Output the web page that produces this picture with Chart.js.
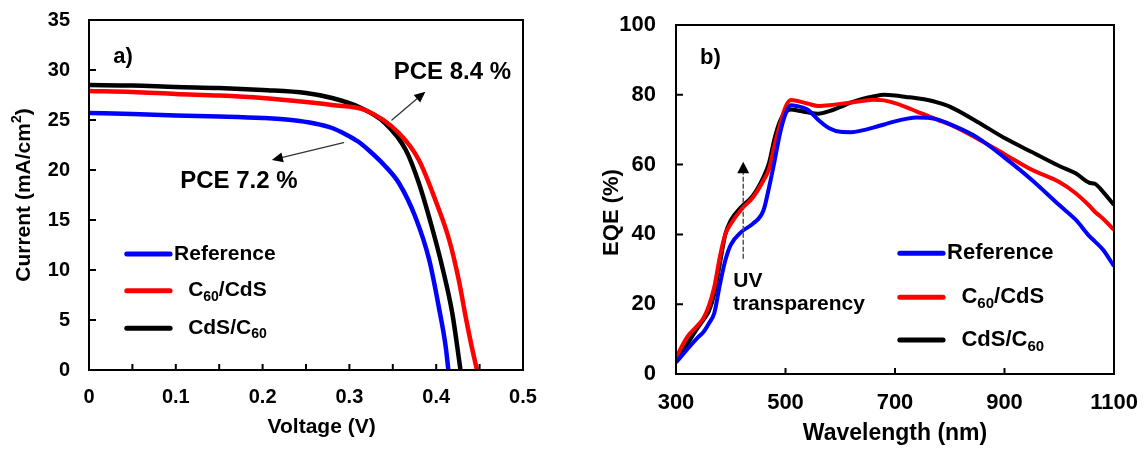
<!DOCTYPE html>
<html>
<head>
<meta charset="utf-8">
<script src="https://cdn.jsdelivr.net/npm/chart.js@4.4.1/dist/chart.umd.min.js"></script>
<style>
  html, body { margin: 0; padding: 0; background: #fff; }
  body { width: 1146px; height: 451px; position: relative; overflow: hidden; }
  .panel { position: absolute; top: 0; }
  #panel-a { left: 0; }
  #panel-b { left: 580px; }
</style>
</head>
<body>
<div class="panel" id="panel-a"><canvas id="grafico-jv" width="560" height="451"></canvas></div>
<div class="panel" id="panel-b"><canvas id="grafico-eqe" width="566" height="451"></canvas></div>
<script>
// ---- a) curvas J-V ----
const voltajeRef = [0, 0.05, 0.1, 0.15, 0.2, 0.233, 0.26, 0.28, 0.295, 0.31, 0.322, 0.34, 0.357, 0.376, 0.392, 0.403, 0.411, 0.414];
const corrienteRef = [25.7, 25.6, 25.45, 25.35, 25.2, 25.0, 24.65, 24.2, 23.6, 22.85, 22.0, 20.5, 18.7, 15.3, 11.0, 6.3, 2.3, 0];

const voltajeC60CdS = [0, 0.05, 0.1, 0.15, 0.2, 0.25, 0.28, 0.318, 0.357, 0.38, 0.399, 0.415, 0.426, 0.434, 0.441, 0.447];
const corrienteC60CdS = [27.9, 27.8, 27.6, 27.45, 27.2, 26.8, 26.5, 26.0, 23.7, 21.0, 17.0, 13.0, 9.0, 5.3, 2.3, 0];

const voltajeCdSC60 = [0, 0.05, 0.1, 0.15, 0.2, 0.25, 0.28, 0.311, 0.341, 0.365, 0.38, 0.395, 0.407, 0.4185, 0.428];
const corrienteCdSC60 = [28.5, 28.45, 28.3, 28.2, 28.0, 27.7, 27.2, 26.3, 24.7, 22.0, 18.7, 14.3, 10.3, 5.7, 0];

const marcasVoltaje = [0.05, 0.1, 0.15, 0.2, 0.25, 0.3, 0.35, 0.4, 0.45];
const marcasCorriente = [5, 10, 15, 20, 25, 30];

// ---- b) EQE ----
const longitudOnda = [300, 320, 340, 350, 360, 370, 380, 390, 400, 420, 440, 460, 470, 480, 490, 500, 510, 520, 540, 560, 580, 600, 620, 640, 660, 680, 700, 720, 740, 760, 780, 800, 850, 900, 950, 1000, 1030, 1055, 1065, 1080, 1100];
const eqeRef = [3.3, 7.0, 10.5, 12.0, 14.5, 17.5, 25.5, 32.5, 37.0, 40.8, 43.0, 47.0, 53.5, 61.0, 69.0, 74.5, 77.0, 76.8, 75.8, 72.8, 70.4, 69.4, 69.3, 69.8, 70.6, 71.5, 72.4, 73.1, 73.5, 73.4, 72.8, 71.6, 67.8, 62.0, 55.6, 48.4, 44.2, 39.5, 38.0, 35.6, 30.9];
const eqeC60CdS = [4.7, 10.5, 14.0, 16.0, 19.5, 25.0, 33.5, 40.0, 43.0, 47.3, 50.5, 55.5, 58.8, 65.5, 71.5, 76.5, 78.5, 78.3, 77.5, 76.8, 77.0, 77.4, 77.8, 78.2, 78.6, 78.4, 77.6, 76.5, 75.2, 74.0, 72.7, 71.5, 67.5, 63.0, 58.5, 55.0, 51.8, 48.2, 46.5, 44.5, 41.3];
const eqeCdSC60 = [3.8, 8.5, 13.3, 15.5, 18.0, 23.0, 31.5, 40.0, 44.0, 48.0, 51.0, 56.5, 60.5, 67.5, 72.5, 75.0, 75.8, 75.6, 75.0, 74.6, 75.3, 76.5, 77.8, 78.8, 79.5, 80.0, 79.8, 79.4, 79.0, 78.5, 77.7, 76.6, 72.3, 67.6, 63.6, 59.6, 57.5, 54.8, 54.5, 52.2, 48.4];

const marcasOnda = [500, 700, 900];
const marcasEqe = [20, 40, 60, 80];

// nombres de las series (partes: [texto, 0 normal / 1 subindice / 2 superindice])
const nombresSeries = [
    [["Reference", 0]],
    [["C", 0], ["60", 1], ["/CdS", 0]],
    [["CdS/C", 0], ["60", 1]]
];
const coloresSeries = ["#0000ff", "#ff0000", "#000000"];

const fuente = "'Liberation Sans', Arial, sans-serif";
Chart.defaults.font.family = fuente;
Chart.defaults.font.weight = "bold";
Chart.defaults.color = "#000";

function puntos(xs, ys) {
    return xs.map((x, i) => ({ x: x, y: ys[i] }));
}

function anchoRico(ctx, partes, tam) {
    let ancho = 0;
    partes.forEach(([t, tipo]) => {
        ctx.font = "bold " + (tipo ? Math.round(tam * 0.66) : tam) + "px " + fuente;
        ancho += ctx.measureText(t).width;
    });
    return ancho;
}

function textoRico(ctx, partes, x, y, tam) {
    let cx = x;
    partes.forEach(([t, tipo]) => {
        ctx.font = "bold " + (tipo ? Math.round(tam * 0.66) : tam) + "px " + fuente;
        const dy = tipo === 1 ? tam * 0.3 : (tipo === 2 ? -tam * 0.32 : 0);
        ctx.fillText(t, cx, y + dy);
        cx += ctx.measureText(t).width;
    });
}

function flecha(ctx, x1, y1, x2, y2) {
    const ang = Math.atan2(y2 - y1, x2 - x1);
    const largo = 11, medio = 5;
    ctx.strokeStyle = "#333";
    ctx.lineWidth = 1.3;
    ctx.beginPath();
    ctx.moveTo(x1, y1);
    ctx.lineTo(x2 - Math.cos(ang) * largo, y2 - Math.sin(ang) * largo);
    ctx.stroke();
    ctx.fillStyle = "#000";
    ctx.beginPath();
    ctx.moveTo(x2, y2);
    ctx.lineTo(x2 - Math.cos(ang) * largo - Math.sin(ang) * medio, y2 - Math.sin(ang) * largo + Math.cos(ang) * medio);
    ctx.lineTo(x2 - Math.cos(ang) * largo + Math.sin(ang) * medio, y2 - Math.sin(ang) * largo - Math.cos(ang) * medio);
    ctx.closePath();
    ctx.fill();
}

/* =========================
   MARCO Y MARCAS INTERIORES
   ========================= */
const pluginMarco = {
    id: "marco",
    afterDatasetsDraw(chart, args, opciones) {
        const { ctx, chartArea: a, scales: { x, y } } = chart;
        ctx.save();
        ctx.strokeStyle = "#000";
        ctx.lineWidth = 2;
        ctx.strokeRect(a.left, a.top, a.right - a.left, a.bottom - a.top);
        ctx.beginPath();
        opciones.marcasX.forEach(v => {
            const px = x.getPixelForValue(v);
            ctx.moveTo(px, a.bottom);
            ctx.lineTo(px, a.bottom - 6);
        });
        opciones.marcasY.forEach(v => {
            const py = y.getPixelForValue(v);
            ctx.moveTo(a.left, py);
            ctx.lineTo(a.left + 7, py);
        });
        ctx.stroke();
        ctx.restore();
    }
};

/* =========================
   LEYENDA, TITULOS Y NOTAS
   ========================= */
const pluginNotas = {
    id: "notas",
    afterDraw(chart, args, o) {
        const { ctx, chartArea: a, scales: { x, y } } = chart;
        ctx.save();
        ctx.fillStyle = "#000";
        ctx.textBaseline = "middle";

        // leyenda
        o.leyenda.filas.forEach((fila, i) => {
            const py = y.getPixelForValue(fila);
            ctx.strokeStyle = coloresSeries[i];
            ctx.lineWidth = 5;
            ctx.lineCap = "round";
            ctx.beginPath();
            ctx.moveTo(x.getPixelForValue(o.leyenda.lineaDesde), py);
            ctx.lineTo(x.getPixelForValue(o.leyenda.lineaHasta), py);
            ctx.stroke();
            ctx.fillStyle = "#000";
            textoRico(ctx, nombresSeries[i], x.getPixelForValue(o.leyenda.texto[i]), py, o.leyenda.tam);
        });

        // textos sueltos
        ctx.textBaseline = "alphabetic";
        o.textos.forEach(t => {
            ctx.font = "bold " + t.tam + "px " + fuente;
            ctx.fillText(t.texto, x.getPixelForValue(t.x), y.getPixelForValue(t.y));
        });

        // flechas
        o.flechas.forEach(f => {
            flecha(ctx, x.getPixelForValue(f.desde[0]), y.getPixelForValue(f.desde[1]),
                x.getPixelForValue(f.hasta[0]), y.getPixelForValue(f.hasta[1]));
        });

        // flecha discontinua
        if (o.discontinua) {
            const d = o.discontinua;
            const px = x.getPixelForValue(d.x);
            const yPunta = y.getPixelForValue(d.punta);
            const yBase = y.getPixelForValue(d.base);
            ctx.strokeStyle = "#555";
            ctx.lineWidth = 1.5;
            ctx.setLineDash([4, 3]);
            ctx.beginPath();
            ctx.moveTo(px, y.getPixelForValue(d.desde));
            ctx.lineTo(px, yBase);
            ctx.stroke();
            ctx.setLineDash([]);
            ctx.fillStyle = "#000";
            ctx.beginPath();
            ctx.moveTo(px, yPunta);
            ctx.lineTo(px - 6, yBase);
            ctx.lineTo(px + 6, yBase);
            ctx.closePath();
            ctx.fill();
        }

        // titulos de ejes
        ctx.fillStyle = "#000";
        ctx.textBaseline = "middle";
        const tx = o.tituloX;
        const anchoX = anchoRico(ctx, tx.partes, tx.tam);
        textoRico(ctx, tx.partes, x.getPixelForValue(tx.centro) - anchoX / 2, a.bottom + tx.abajo, tx.tam);

        const ty = o.tituloY;
        const anchoY = anchoRico(ctx, ty.partes, ty.tam);
        ctx.translate(ty.izquierda, (a.top + a.bottom) / 2 + ty.desplazamiento);
        ctx.rotate(-Math.PI / 2);
        textoRico(ctx, ty.partes, -anchoY / 2, 0, ty.tam);
        ctx.restore();
    }
};

function serie(nombre, xs, ys, color, grosor) {
    return {
        label: nombre,
        data: puntos(xs, ys),
        showLine: true,
        borderColor: color,
        backgroundColor: color,
        borderWidth: grosor,
        pointRadius: 0,
        cubicInterpolationMode: "monotone",
        fill: false
    };
}

function sinRelleno(s) {
    s.paddingTop = 0;
    s.paddingBottom = 0;
    s.paddingLeft = 0;
    s.paddingRight = 0;
}

function ejes(cfg) {
    return {
        x: {
            type: "linear",
            min: cfg.xMin, max: cfg.xMax,
            grid: { display: false, drawTicks: false },
            border: { display: false },
            ticks: {
                stepSize: cfg.xPaso, padding: cfg.xRelleno,
                font: { size: cfg.tamTick, weight: "bold" },
                callback: v => String(Number(v.toFixed(2)))
            },
            afterFit: s => { s.height = cfg.altoX; sinRelleno(s); }
        },
        y: {
            type: "linear",
            min: cfg.yMin, max: cfg.yMax,
            grid: { display: false, drawTicks: false },
            border: { display: false },
            ticks: {
                stepSize: cfg.yPaso, padding: cfg.yRelleno,
                font: { size: cfg.tamTick, weight: "bold" }
            },
            afterFit: s => { s.width = cfg.anchoY; sinRelleno(s); }
        }
    };
}

new Chart(document.getElementById("grafico-jv").getContext("2d"), {
    type: "scatter",
    data: {
        datasets: [
            serie("Reference", voltajeRef, corrienteRef, coloresSeries[0], 4.5),
            serie("C60/CdS", voltajeC60CdS, corrienteC60CdS, coloresSeries[1], 4.5),
            serie("CdS/C60", voltajeCdSC60, corrienteCdSC60, coloresSeries[2], 4.5)
        ]
    },
    options: {
        responsive: false,
        animation: false,
        layout: { padding: { top: 20, right: 37, left: 0, bottom: 0 } },
        scales: ejes({ xMin: 0, xMax: 0.5, xPaso: 0.1, yMin: 0, yMax: 35, yPaso: 5,
            tamTick: 20, xRelleno: 15, yRelleno: 19, altoX: 81, anchoY: 89 }),
        plugins: {
            legend: { display: false },
            tooltip: { enabled: false },
            marco: { marcasX: marcasVoltaje, marcasY: marcasCorriente },
            notas: {
                leyenda: { filas: [11.6, 7.93, 4.17], lineaDesde: 0.0435, lineaHasta: 0.0934,
                    texto: [0.098, 0.1142, 0.1142], tam: 21 },
                textos: [
                    { texto: "a)", x: 0.028, y: 30.7, tam: 22 },
                    { texto: "PCE 8.4 %", x: 0.351, y: 29.1, tam: 24 },
                    { texto: "PCE 7.2 %", x: 0.105, y: 18.17, tam: 24 }
                ],
                flechas: [
                    { desde: [0.349, 25.0], hasta: [0.3875, 27.83] },
                    { desde: [0.2933, 22.73], hasta: [0.2107, 21.0] }
                ],
                tituloX: { partes: [["Voltage (V)", 0]], tam: 21, centro: 0.268, abajo: 57 },
                tituloY: { partes: [["Current (mA/cm", 0], ["2", 2], [")", 0]], tam: 21, izquierda: 24, desplazamiento: 0 }
            }
        }
    },
    plugins: [pluginMarco, pluginNotas]
});

new Chart(document.getElementById("grafico-eqe").getContext("2d"), {
    type: "scatter",
    data: {
        datasets: [
            serie("Reference", longitudOnda, eqeRef, coloresSeries[0], 4),
            serie("C60/CdS", longitudOnda, eqeC60CdS, coloresSeries[1], 4),
            serie("CdS/C60", longitudOnda, eqeCdSC60, coloresSeries[2], 4)
        ]
    },
    options: {
        responsive: false,
        animation: false,
        layout: { padding: { top: 25, right: 32, left: 0, bottom: 0 } },
        scales: ejes({ xMin: 300, xMax: 1100, xPaso: 200, yMin: 0, yMax: 100, yPaso: 20,
            tamTick: 22, xRelleno: 16, yRelleno: 20, altoX: 77, anchoY: 96 }),
        plugins: {
            legend: { display: false },
            tooltip: { enabled: false },
            marco: { marcasX: marcasOnda, marcasY: marcasEqe },
            notas: {
                leyenda: { filas: [34.6, 22.0, 9.74], lineaDesde: 708.8, lineaHasta: 787.8,
                    texto: [795, 821.4, 821.4], tam: 22 },
                textos: [
                    { texto: "b)", x: 343.8, y: 88.8, tam: 22 },
                    { texto: "UV", x: 404.6, y: 25.0, tam: 21 },
                    { texto: "transparency", x: 404, y: 18.3, tam: 21 }
                ],
                flechas: [],
                discontinua: { x: 422.8, punta: 60.8, base: 57.5, desde: 33.2 },
                tituloX: { partes: [["Wavelength (nm)", 0]], tam: 23, centro: 700, abajo: 60 },
                tituloY: { partes: [["EQE (%)", 0]], tam: 22, izquierda: 32, desplazamiento: 13 }
            }
        }
    },
    plugins: [pluginMarco, pluginNotas]
});
</script>
</body>
</html>
